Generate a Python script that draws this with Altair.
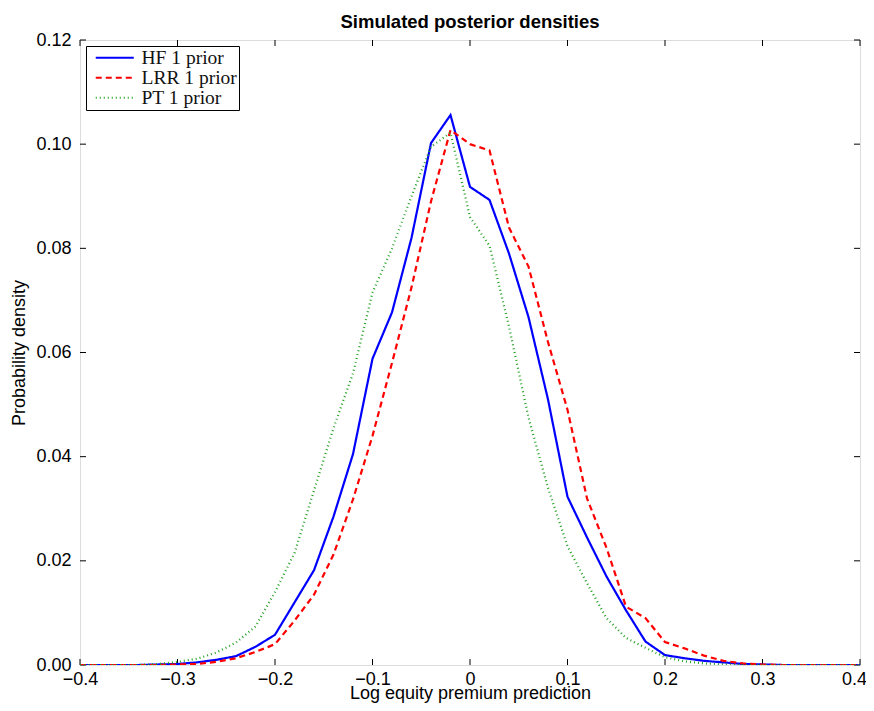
import altair as alt
import pandas as pd

x_vals = [-0.40, -0.38, -0.36, -0.34, -0.32, -0.30, -0.28, -0.26, -0.24, -0.22,
          -0.20, -0.18, -0.16, -0.14, -0.12, -0.10, -0.08, -0.06, -0.04, -0.02,
          0.00, 0.02, 0.04, 0.06, 0.08, 0.10, 0.12, 0.14, 0.16, 0.18,
          0.20, 0.22, 0.24, 0.26, 0.28, 0.30, 0.32, 0.34, 0.36, 0.38, 0.40]

hf = [0, 0, 0, 0, 0.0001, 0.0002, 0.0005, 0.0010, 0.0017, 0.0035,
      0.0058, 0.0120, 0.0182, 0.0285, 0.0405, 0.0588, 0.0677, 0.0820, 0.1002, 0.1056,
      0.0918, 0.0893, 0.0790, 0.0668, 0.0510, 0.0323, 0.0245, 0.0170, 0.0105, 0.0045,
      0.0019, 0.0013, 0.0008, 0.0005, 0.0002, 0.0001, 0, 0, 0, 0, 0]

lrr = [0, 0, 0, 0, 0, 0.0001, 0.0002, 0.0006, 0.0013, 0.0025,
       0.0040, 0.0085, 0.0135, 0.0212, 0.0318, 0.0440, 0.0580, 0.0725, 0.0890, 0.1027,
       0.1000, 0.0988, 0.0840, 0.0765, 0.0620, 0.0490, 0.0320, 0.0225, 0.0112, 0.0090,
       0.0044, 0.0032, 0.0018, 0.0008, 0.0003, 0.0001, 0, 0, 0, 0, 0]

pt = [0, 0, 0, 0, 0.0002, 0.0006, 0.0012, 0.0024, 0.0043, 0.0074,
      0.0140, 0.0215, 0.0335, 0.0455, 0.0560, 0.0715, 0.0800, 0.0900, 0.0995, 0.1022,
      0.0860, 0.0805, 0.0650, 0.0475, 0.0340, 0.0228, 0.0157, 0.0090, 0.0052, 0.0033,
      0.0015, 0.0007, 0.0003, 0.0001, 0, 0, 0, 0, 0, 0, 0]

names = ["HF 1 prior", "LRR 1 prior", "PT 1 prior"]
colors = ["#0000ff", "#ff0000", "#22a022"]
dashes = [[1, 0], [6, 4], [1, 3]]
widths = [2.2, 2.2, 1.0]

x_ticks = [-0.4, -0.3, -0.2, -0.1, 0.0, 0.1, 0.2, 0.3, 0.4]
y_ticks = [0.0, 0.02, 0.04, 0.06, 0.08, 0.10, 0.12]

rows = []
for name, ys in zip(names, [hf, lrr, pt]):
    for xv, yv in zip(x_vals, ys):
        rows.append({"x": xv, "y": yv, "series": name})
df = pd.DataFrame(rows)
xt = pd.DataFrame({"v": x_ticks})
yt = pd.DataFrame({"v": y_ticks})

W, H = 780, 625
TL = 6
FONT = "Liberation Sans"

xscale = alt.Scale(domain=[-0.4, 0.4], nice=False, zero=False)
yscale = alt.Scale(domain=[0, 0.12], nice=False)

leg = alt.Legend(
    title=None, orient="none", legendX=6, legendY=6,
    strokeColor="black", fillColor="white", padding=2, cornerRadius=0,
    labelFont="Liberation Serif", labelFontSize=19.5, labelColor="#111111",
    symbolType="M-1,0H4.43", symbolSize=196, symbolOffset=5, labelOffset=29,
    rowPadding=-4,
)

lines = alt.Chart(df).mark_line(clip=True).encode(
    x=alt.X("x:Q", scale=xscale,
            axis=alt.Axis(values=x_ticks, format="~g", title="Log equity premium prediction",
                          grid=False, ticks=False, domain=False, labelPadding=5,
                          labelFontSize=18, titleFontSize=18,
                          labelOffset=alt.condition("datum.value > 0.35", alt.value(-6), alt.value(0)),
                          titleBaseline="alphabetic", titleY=33, titleX=W / 2,
                          labelFont=FONT, titleFont=FONT, titleFontWeight="normal",
                          labelColor="black", titleColor="black", labelFlush=False)),
    y=alt.Y("y:Q", scale=yscale,
            axis=alt.Axis(values=y_ticks, format=".2f", title="Probability density",
                          grid=False, ticks=False, domain=False, labelPadding=9,
                          labelFontSize=18, titleFontSize=18,
                          titleBaseline="alphabetic", titleX=-56, titleY=H / 2,
                          titleAngle=270,
                          labelFont=FONT, titleFont=FONT, titleFontWeight="normal",
                          labelColor="black", titleColor="black", labelFlush=False)),
    color=alt.Color("series:N", scale=alt.Scale(domain=names, range=colors), legend=leg),
    strokeDash=alt.StrokeDash("series:N", scale=alt.Scale(domain=names, range=dashes), legend=leg),
    strokeWidth=alt.StrokeWidth("series:N", scale=alt.Scale(domain=names, range=widths), legend=leg),
    order=alt.Order("x:Q"),
)

xb = alt.Chart(xt).mark_rule(color="black", strokeWidth=1).encode(
    x=alt.X("v:Q", scale=xscale), y=alt.value(H), y2=alt.value(H - TL))
xtop = alt.Chart(xt).mark_rule(color="black", strokeWidth=1).encode(
    x=alt.X("v:Q", scale=xscale), y=alt.value(0), y2=alt.value(TL))
yl = alt.Chart(yt).mark_rule(color="black", strokeWidth=1).encode(
    y=alt.Y("v:Q", scale=yscale), x=alt.value(0), x2=alt.value(TL))
yr = alt.Chart(yt).mark_rule(color="black", strokeWidth=1).encode(
    y=alt.Y("v:Q", scale=yscale), x=alt.value(W), x2=alt.value(W - TL))

chart = alt.layer(xb, xtop, yl, yr, lines).properties(
    width=W, height=H,
    title=alt.TitleParams("Simulated posterior densities", font=FONT, fontSize=18.5,
                          fontWeight="bold", color="black", offset=0),
    autosize=alt.AutoSizeParams(type="none"),
    padding={"left": 72, "top": 32, "right": 6, "bottom": 38},
).configure_view(stroke="black", strokeWidth=1.2).configure(background="white")

chart.save("out.html", embed_options={"renderer": "svg", "actions": False})
